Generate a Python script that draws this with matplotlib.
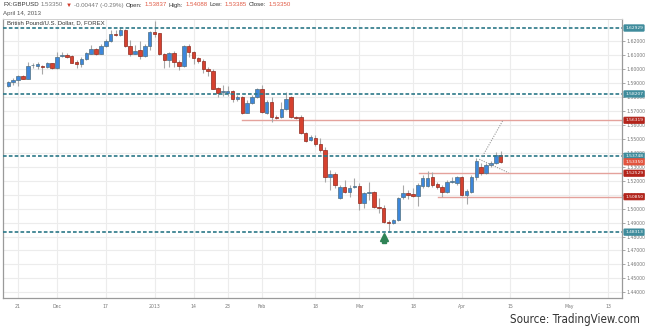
import numpy as np
import matplotlib
matplotlib.use('Agg')
import matplotlib.pyplot as plt
from matplotlib import font_manager
from matplotlib.transforms import blended_transform_factory

# GBPUSD daily candles; index 0 is Nov 21 2012 (weekends skipped)
first_idx = -2
opens = [
    1.5880, 1.5906, 1.5921, 1.5949, 1.5930, 1.6025, 1.6021, 1.6021, 1.6011, 1.6040,
    1.6004, 1.6092, 1.6100, 1.6092, 1.6049, 1.6037, 1.6068, 1.6109, 1.6145, 1.6109,
    1.6164, 1.6202, 1.6250, 1.6241, 1.6279, 1.6164, 1.6109, 1.6135, 1.6095, 1.6164,
    1.6262, 1.6255, 1.6109, 1.6064, 1.6112, 1.6052, 1.6021, 1.6164, 1.6123, 1.6076,
    1.6059, 1.5997, 1.5988, 1.5861, 1.5832, 1.5828, 1.5840, 1.5785, 1.5797, 1.5686,
    1.5758, 1.5797, 1.5854, 1.5682, 1.5761, 1.5656, 1.5654, 1.5711, 1.5797, 1.5656,
    1.5654, 1.5539, 1.5491, 1.5503, 1.5463, 1.5420, 1.5229, 1.5248, 1.5074, 1.5157,
    1.5121, 1.5153, 1.5162, 1.5038, 1.5110, 1.5119, 1.5013, 1.5006, 1.4906, 1.4895,
    1.4918, 1.5081, 1.5110, 1.5102, 1.5090, 1.5164, 1.5164, 1.5224, 1.5174, 1.5155,
    1.5121, 1.5189, 1.5181, 1.5227, 1.5097, 1.5121, 1.5229, 1.5300, 1.5252, 1.5312,
    1.5324, 1.53837]
closes = [
    1.5906, 1.5921, 1.5949, 1.5930, 1.6021, 1.6028, 1.6033, 1.6011, 1.6040, 1.6004,
    1.6088, 1.6100, 1.6088, 1.6044, 1.6037, 1.6068, 1.6112, 1.6145, 1.6109, 1.6164,
    1.6202, 1.6250, 1.6241, 1.6279, 1.6166, 1.6109, 1.6130, 1.6095, 1.6166, 1.6262,
    1.6250, 1.6105, 1.6064, 1.6112, 1.6052, 1.6021, 1.6164, 1.6123, 1.6076, 1.6057,
    1.6002, 1.5988, 1.5858, 1.5830, 1.5839, 1.5840, 1.5783, 1.5797, 1.5686, 1.5758,
    1.5797, 1.5854, 1.5689, 1.5761, 1.5654, 1.5652, 1.5711, 1.5785, 1.5654, 1.5652,
    1.5539, 1.5486, 1.5510, 1.5463, 1.5420, 1.5224, 1.5248, 1.5169, 1.5157, 1.5119,
    1.5150, 1.5162, 1.5038, 1.5110, 1.5119, 1.5013, 1.5006, 1.4906, 1.4895, 1.4918,
    1.5078, 1.5110, 1.5097, 1.5092, 1.5169, 1.5219, 1.5221, 1.5169, 1.5152, 1.5121,
    1.5191, 1.5200, 1.5227, 1.5097, 1.5128, 1.5229, 1.5341, 1.5252, 1.5312, 1.5329,
    1.5384, 1.53350]
highs = [
    1.5913, 1.5933, 1.5956, 1.5954, 1.6052, 1.6042, 1.6052, 1.6028, 1.6047, 1.6045,
    1.6119, 1.6119, 1.6112, 1.6100, 1.6064, 1.6083, 1.6121, 1.6171, 1.6152, 1.6178,
    1.6214, 1.6279, 1.6279, 1.6302, 1.6286, 1.6207, 1.6171, 1.6200, 1.6178, 1.6274,
    1.6343, 1.6259, 1.6112, 1.6123, 1.6128, 1.6064, 1.6171, 1.6178, 1.6130, 1.6088,
    1.6069, 1.6016, 1.5997, 1.5868, 1.5885, 1.5881, 1.5849, 1.5811, 1.5808, 1.5777,
    1.5813, 1.5866, 1.5885, 1.5777, 1.5801, 1.5670, 1.5766, 1.5837, 1.5806, 1.5663,
    1.5670, 1.5551, 1.5527, 1.5527, 1.5506, 1.5443, 1.5276, 1.5264, 1.5169, 1.5205,
    1.5169, 1.5217, 1.5181, 1.5121, 1.5193, 1.5128, 1.5074, 1.5026, 1.4918, 1.4923,
    1.5085, 1.5169, 1.5133, 1.5145, 1.5181, 1.5241, 1.5269, 1.5264, 1.5193, 1.5169,
    1.5205, 1.5224, 1.5234, 1.5234, 1.5138, 1.5241, 1.5360, 1.5324, 1.5324, 1.5341,
    1.5407, 1.54088]
lows = [
    1.5873, 1.5885, 1.5880, 1.5926, 1.5926, 1.6006, 1.5997, 1.5964, 1.6006, 1.5997,
    1.5999, 1.6083, 1.6076, 1.6040, 1.6006, 1.6011, 1.6064, 1.6104, 1.6100, 1.6104,
    1.6159, 1.6195, 1.6238, 1.6238, 1.6159, 1.6095, 1.6104, 1.6069, 1.6088, 1.6135,
    1.6226, 1.6100, 1.6009, 1.6016, 1.6016, 1.5992, 1.6016, 1.6088, 1.6033, 1.6040,
    1.5969, 1.5952, 1.5854, 1.5801, 1.5806, 1.5806, 1.5766, 1.5773, 1.5677, 1.5682,
    1.5749, 1.5790, 1.5682, 1.5677, 1.5622, 1.5642, 1.5647, 1.5706, 1.5647, 1.5640,
    1.5534, 1.5479, 1.5484, 1.5448, 1.5408, 1.5193, 1.5133, 1.5145, 1.5069, 1.5110,
    1.5085, 1.5145, 1.4990, 1.5002, 1.5061, 1.5006, 1.4966, 1.4894, 1.4834, 1.4890,
    1.4913, 1.5069, 1.5067, 1.5085, 1.5018, 1.5145, 1.5157, 1.5157, 1.5138, 1.5085,
    1.5110, 1.5181, 1.5169, 1.5093, 1.5033, 1.5114, 1.5205, 1.5241, 1.5248, 1.5300,
    1.5317, 1.53285]

tick_idx = [0, 8, 18, 28, 36, 43, 50, 61, 70, 81, 91, 101, 113, 121]
tick_labels = ['21', 'Dec', '17', '2013', '14', '23', 'Feb', '18', 'Mar', '18',
               'Apr', '15', 'May', '13']

# support / resistance levels
teal_levels = [1.62929, 1.58207, 1.53748, 1.48313]
red_levels = [1.56319, 1.52529, 1.50850]
red_starts = [45.9, 82.2, 86.1]
last_price = 1.53350

# dotted projection lines (index, price)
proj_up = ([95.3, 99.4], [1.5377, 1.5629])
proj_down = ([94.6, 100.6], [1.5353, 1.5257])
arrow_idx, arrow_price = 75, 1.4800

UP = '#3d87dc'
UP_EDGE = '#4f6f80'
DOWN = '#d6412f'
DOWN_EDGE = '#8e2a1f'
TEAL = '#2b7888'
TEAL_BOX = '#3f8c9c'
RED_LINE = '#e4a29c'
RED_BOX = '#b3241b'
LAST_BOX = '#e2553f'

W, H = 645, 331
fig = plt.figure(figsize=(W / 100, H / 100), dpi=100)
fig.patch.set_facecolor('white')
ax = fig.add_axes([3 / W, 33 / H, 619 / W, 279 / H])

x = np.arange(first_idx, first_idx + len(opens))
o = np.array(opens)
c = np.array(closes)
hi = np.array(highs)
lo = np.array(lows)
up = c >= o

# grid
for t in tick_idx:
    ax.axvline(t, color='#ececec', lw=0.8, zorder=0)
grid_prices = np.arange(1.44, 1.625, 0.01)
for p in grid_prices:
    ax.axhline(p, color='#ececec', lw=0.8, zorder=0)

# wicks and bodies
ax.vlines(x, lo, hi, color='#a8a8a8', lw=0.8, zorder=2)
body = np.maximum(np.abs(c - o), 0.00012)
bottom = np.minimum(o, c)
ax.bar(x[up], body[up], bottom=bottom[up], width=0.72, color=UP,
       edgecolor=UP_EDGE, linewidth=0.5, zorder=3)
ax.bar(x[~up], body[~up], bottom=bottom[~up], width=0.72, color=DOWN,
       edgecolor=DOWN_EDGE, linewidth=0.5, zorder=3)

xmin, xmax = -3.08, 123.87
for lv in teal_levels:
    ax.axhline(lv, color=TEAL, lw=1.2, ls=(0, (2.2, 1.3)), zorder=4)
for lv, xs in zip(red_levels, red_starts):
    ax.plot([xs, xmax], [lv, lv], color=RED_LINE, lw=1.0, zorder=1)

ax.plot(*proj_up, color='#999999', lw=0.8, ls=(0, (1, 1.2)), zorder=4)
ax.plot(*proj_down, color='#999999', lw=0.8, ls=(0, (1, 1.2)), zorder=4)
ax.plot(arrow_idx, arrow_price, marker='^', ms=5.5, color='#2f8356',
        zorder=5, clip_on=False)
ax.plot(arrow_idx, arrow_price - 0.0035, marker='s', ms=2.6, color='#2f8356',
        zorder=5, clip_on=False)

ax.set_xlim(xmin, xmax)
ax.set_ylim(1.43597, 1.63574)

ax.set_xticks(tick_idx)
ax.set_xticklabels(tick_labels)
ax.set_yticks(grid_prices)
ax.set_yticklabels(['%.5f' % v for v in grid_prices])
ax.yaxis.tick_right()
ax.tick_params(axis='both', labelsize=3.3, colors='#999999', length=2,
               width=0.6, pad=1.2, labelcolor='#777777')
ax.tick_params(axis='x', length=0, pad=4.5)
for s in ['left', 'bottom', 'right']:
    ax.spines[s].set_color('#9a9a9a')
    ax.spines[s].set_linewidth(0.9)
ax.spines['top'].set_color('#cfcfcf')
ax.spines['top'].set_linewidth(0.7)

# price labels on the right axis
tr = blended_transform_factory(ax.transAxes, ax.transData)
axis_labels = [(lv, TEAL_BOX) for lv in teal_levels] + \
              [(lv, RED_BOX) for lv in red_levels] + [(last_price, LAST_BOX)]
for lv, col in axis_labels:
    ax.text(1.005, lv, '%.5f' % lv, transform=tr, fontsize=3.2, color='white',
            va='center', ha='left', zorder=6,
            bbox=dict(boxstyle='round,pad=0.28,rounding_size=0.15', fc=col,
                      ec=col, lw=0.5))

ax.text(0.007, 0.997, 'British Pound/U.S. Dollar, D, FOREX', transform=ax.transAxes,
        fontsize=4.3, color='#333333', va='top', ha='left',
        family=['Liberation Sans', 'DejaVu Sans'])

# header line with quote values
renderer = fig.canvas.get_renderer()
hdr_font = ['Liberation Sans', 'DejaVu Sans']
pieces = [('FX:GBPUSD', '#333333'), ('1.53350', '#777777'), ('\u25bc', '#d03a2a'),
          ('-0.00447 (-0.29%)', '#777777'), ('Open:', '#333333'), ('1.53837', '#e05a45'),
          ('High:', '#333333'), ('1.54088', '#e05a45'), ('Low:', '#333333'),
          ('1.53385', '#e05a45'), ('Close:', '#333333'), ('1.53350', '#e05a45')]
px = 3
for s, col in pieces:
    t = fig.text(px / W, 1 - 5 / H, s, color=col, fontsize=4.4, va='center',
                 ha='left', family=hdr_font)
    px += t.get_window_extent(renderer).width + 2.2
fig.text(3 / W, 1 - 13 / H, 'April 14, 2013', color='#555555', fontsize=4.4,
         va='center', ha='left', family=hdr_font)

# narrow face for the source note if one is installed
src_kw = dict(family='Liberation Sans', fontsize=8.0)
for f in font_manager.fontManager.ttflist:
    if f.name == 'Liberation Sans Narrow':
        src_kw = dict(family='Liberation Sans Narrow', fontsize=10.5)
        break
    if f.name == 'DejaVu Sans' and f.stretch == 'condensed':
        src_kw = dict(family='DejaVu Sans', fontstretch='condensed', fontsize=8.3)
fig.text(640 / W, 1 - 320 / H, 'Source: TradingView.com', color='#333333',
         va='center', ha='right', **src_kw)

fig.savefig('out.png', dpi=100, facecolor='white')
